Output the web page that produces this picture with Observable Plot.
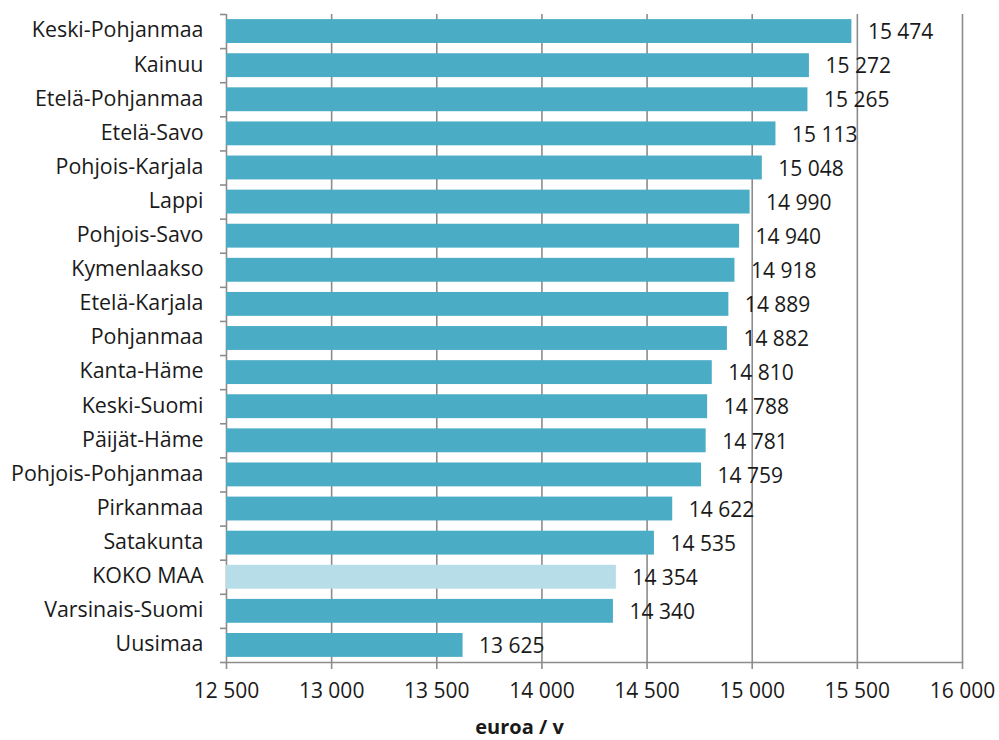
<!DOCTYPE html>
<html>
<head>
<meta charset="utf-8">
<script src="https://cdn.jsdelivr.net/npm/d3@7"></script>
<script src="https://cdn.jsdelivr.net/npm/@observablehq/plot@0.6"></script>
<style>
  html, body { margin: 0; padding: 0; background: #fff; }
</style>
</head>
<body>
<div id="chart"></div>
<script>
const regions = ["Keski-Pohjanmaa","Kainuu","Etelä-Pohjanmaa","Etelä-Savo","Pohjois-Karjala","Lappi","Pohjois-Savo","Kymenlaakso","Etelä-Karjala","Pohjanmaa","Kanta-Häme","Keski-Suomi","Päijät-Häme","Pohjois-Pohjanmaa","Pirkanmaa","Satakunta","KOKO MAA","Varsinais-Suomi","Uusimaa"];
const values = [15474,15272,15265,15113,15048,14990,14940,14918,14889,14882,14810,14788,14781,14759,14622,14535,14354,14340,13625];
const xTicks = [12500,13000,13500,14000,14500,15000,15500,16000];
const axisLabel = "euroa / v";
const totalLabel = "KOKO MAA";

const data = regions.map((r, i) => ({region: r, value: values[i]}));
const fmt = d => d3.format(",")(d).replace(/,/g, " ");
const gray = "#8c8c8c";
const W = 999, H = 740, mL = 226, mR = 37, mT = 14, mB = 78;
const step = (H - mT - mB) / regions.length;
const tickUnits = 6 * (xTicks[xTicks.length-1] - xTicks[0]) / (W - mL - mR);

const chart = Plot.plot({
  width: W, height: H,
  marginLeft: mL, marginRight: mR, marginTop: mT, marginBottom: mB,
  style: {fontFamily: "'Open Sans', sans-serif", fontSize: "21px", color: "#1a1a1a", background: "#fff"},
  x: {domain: [xTicks[0], xTicks[xTicks.length-1]]},
  y: {domain: regions, paddingInner: 0.3, paddingOuter: 0.15, round: false},
  marks: [
    Plot.gridX(xTicks, {stroke: gray, strokeOpacity: 1, strokeWidth: 1.6}),
    Plot.frame({anchor: "bottom", stroke: gray, strokeWidth: 1.6}),
    Plot.ruleY(regions, {y: d => d, x1: xTicks[0] - tickUnits, x2: xTicks[0], dy: -step/2, stroke: gray, strokeWidth: 1.6}),
    Plot.ruleY(regions.slice(-1), {y: d => d, x1: xTicks[0] - tickUnits, x2: xTicks[0], dy: step/2, stroke: gray, strokeWidth: 1.6}),
    Plot.barX(data, {x1: xTicks[0], x2: "value", y: "region", fill: d => d.region === totalLabel ? "#b7dde8" : "#4bacc6"}),
    Plot.text(data, {x: "value", y: "region", text: d => fmt(d.value), textAnchor: "start", dx: 16, dy: 1, fill: "#1a1a1a"}),
    Plot.axisX(xTicks, {tickSize: 7, tickPadding: 14, stroke: gray, strokeWidth: 1.6, fill: "#1a1a1a", tickFormat: fmt, label: null}),
    Plot.axisY({tickSize: 0, tickPadding: 23, dy: -1, fontSize: 21.4, fill: "#1a1a1a", label: null}),
    Plot.text([axisLabel], {frameAnchor: "bottom", dx: -75, dy: 71, fontWeight: "bold", fill: "#1a1a1a", fontSize: 20})
  ]
});
document.getElementById("chart").appendChild(chart);
</script>
</body>
</html>
